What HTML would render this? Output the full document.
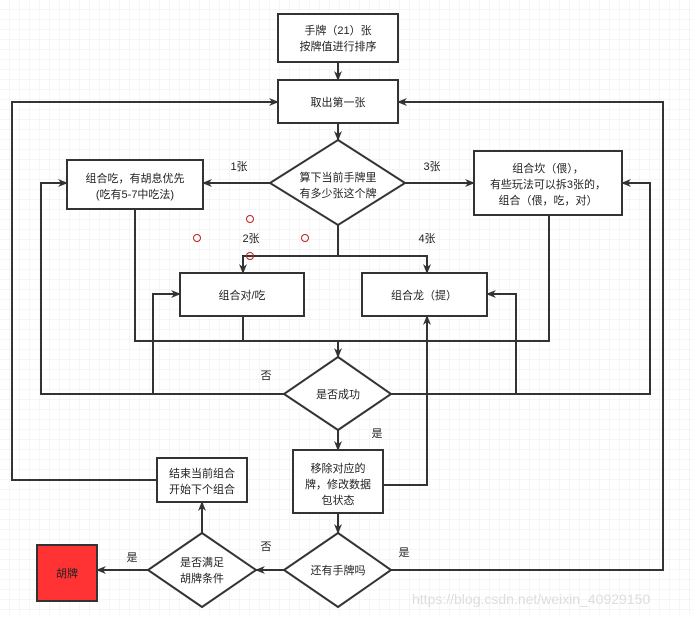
<!DOCTYPE html>
<html><head><meta charset="utf-8"><style>
html,body{margin:0;padding:0;background:#fff}
svg text{font-family:"Liberation Sans","Noto Sans CJK SC",sans-serif;font-size:11px;fill:#222}
</style></head><body>
<svg width="693" height="615" viewBox="0 0 693 615" xmlns="http://www.w3.org/2000/svg">
<defs>
<pattern id="g" width="10" height="10" patternUnits="userSpaceOnUse"><path d="M10 0V10H0" fill="none" stroke="#ececec" stroke-width="1"/></pattern>
<marker id="a" markerWidth="10" markerHeight="10" refX="9" refY="5" orient="auto" markerUnits="userSpaceOnUse"><path d="M0,1 L10,5 L0,9 L3,5 z" fill="#333"/></marker>
</defs>
<rect width="693" height="615" fill="url(#g)"/>
<g fill="none" stroke="#333" stroke-width="2">
<path d="M338 62V80" marker-end="url(#a)"/>
<path d="M338 123V140" marker-end="url(#a)"/>
<path d="M157 480H12V102H278" marker-end="url(#a)"/>
<path d="M391 570H663V102H398" marker-end="url(#a)"/>
<path d="M270 183H203" marker-end="url(#a)"/>
<path d="M405 183H474" marker-end="url(#a)"/>
<path d="M338 225V256H243V273" marker-end="url(#a)"/>
<path d="M338 256H427V273" marker-end="url(#a)"/>
<path d="M135 209V341H549V215"/>
<path d="M243 316V341"/>
<path d="M338 341V357" marker-end="url(#a)"/>
<path d="M284 394H41V183H67" marker-end="url(#a)"/>
<path d="M153 394V294H180" marker-end="url(#a)"/>
<path d="M391 394H650V183H622" marker-end="url(#a)"/>
<path d="M516 394V294H487" marker-end="url(#a)"/>
<path d="M338 430V450" marker-end="url(#a)"/>
<path d="M383 485H427V316" marker-end="url(#a)"/>
<path d="M338 513V533" marker-end="url(#a)"/>
<path d="M284 570H256" marker-end="url(#a)"/>
<path d="M202 533V502" marker-end="url(#a)"/>
<path d="M148 570H97" marker-end="url(#a)"/>
</g>
<g stroke="#333" stroke-width="2" fill="#fff">
<rect x="278" y="14" width="120" height="48"/>
<rect x="278" y="80" width="120" height="43"/>
<polygon points="338,140 405,183 338,225 270,183"/>
<rect x="67" y="160" width="136" height="49"/>
<rect x="474" y="151" width="148" height="64"/>
<rect x="180" y="273" width="124" height="43"/>
<rect x="362" y="273" width="125" height="43"/>
<polygon points="338,357 391,394 338,430 284,394"/>
<rect x="293" y="450" width="90" height="63"/>
<rect x="157" y="458" width="90" height="44"/>
<polygon points="338,533 391,570 338,607 284,570"/>
<polygon points="202,533 256,570 202,607 148,570"/>
<rect x="37" y="545" width="60" height="56" fill="#ff3333"/>
</g>
<g fill="none" stroke="#b22" stroke-width="1">
<circle cx="250" cy="219" r="3.5"/><circle cx="197" cy="238" r="3.5"/><circle cx="305" cy="238" r="3.5"/><circle cx="250" cy="256" r="3.5"/>
</g>
<g text-anchor="middle">
<text x="338" y="34">手牌（21）张</text>
<text x="338" y="50">按牌值进行排序</text>
<text x="338" y="106">取出第一张</text>
<text x="338" y="181">算下当前手牌里</text>
<text x="338" y="197">有多少张这个牌</text>
<text x="135" y="182">组合吃，有胡息优先</text>
<text x="135" y="198">(吃有5-7中吃法)</text>
<text x="548" y="172">组合坎（偎），</text>
<text x="548" y="188">有些玩法可以拆3张的，</text>
<text x="548" y="204">组合（偎，吃，对）</text>
<text x="242" y="299">组合对/吃</text>
<text x="424" y="299">组合龙（提）</text>
<text x="338" y="398">是否成功</text>
<text x="338" y="472">移除对应的</text>
<text x="338" y="488">牌，修改数据</text>
<text x="338" y="504">包状态</text>
<text x="202" y="477">结束当前组合</text>
<text x="202" y="493">开始下个组合</text>
<text x="338" y="574">还有手牌吗</text>
<text x="202" y="566">是否满足</text>
<text x="202" y="582">胡牌条件</text>
<text x="67" y="577">胡牌</text>
<text x="239" y="170">1张</text>
<text x="432" y="170">3张</text>
<text x="251" y="242">2张</text>
<text x="427" y="242">4张</text>
<text x="266" y="379">否</text>
<text x="377" y="437">是</text>
<text x="266" y="550">否</text>
<text x="404" y="556">是</text>
<text x="132" y="561">是</text>
</g>
<text x="412" y="604" style="font-size:14px;fill:#ddd">https://blog.csdn.net/weixin_40929150</text>
</svg>
</body></html>
